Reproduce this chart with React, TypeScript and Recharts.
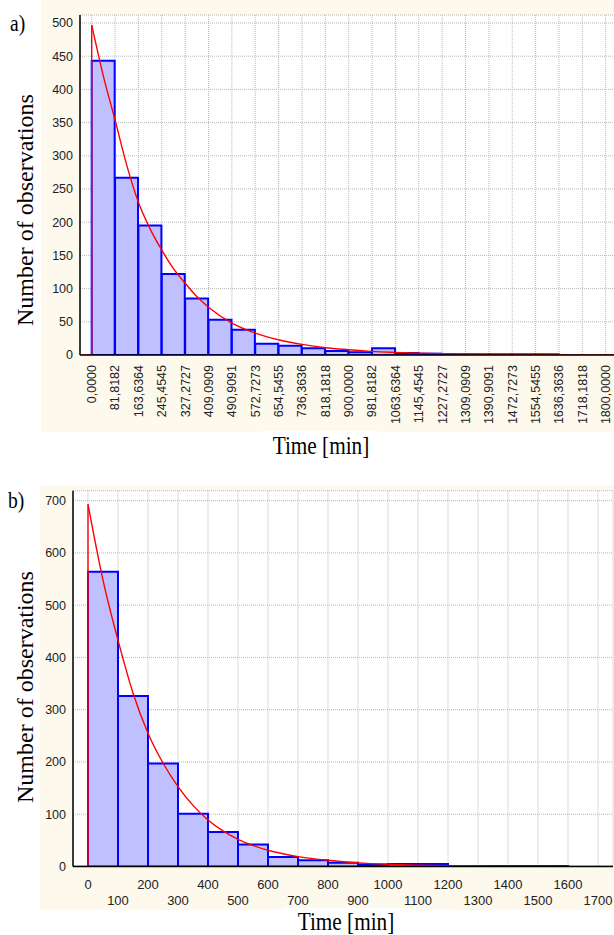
import React from 'react';
import { ComposedChart, Bar, Line, XAxis, YAxis, CartesianGrid } from 'recharts';

// a) bin edges as printed on the axis (min)
const tickLabelsA = [
  '0,0000', '81,8182', '163,6364', '245,4545', '327,2727', '409,0909', '490,9091',
  '572,7273', '654,5455', '736,3636', '818,1818', '900,0000', '981,8182', '1063,6364',
  '1145,4545', '1227,2727', '1309,0909', '1390,9091', '1472,7273', '1554,5455',
  '1636,3636', '1718,1818', '1800,0000',
];
const countsA = [443, 267, 195, 122, 85, 53, 38, 17, 14, 10, 6, 4, 10, 3, 2, 1, 1, 1, 1, 1, 0, 0];
// fitted exponential
const fitXA = [0, 40.9, 81.8, 122.7, 163.6, 204.5, 245.5, 286.4, 327.3, 368.2, 409.1, 490.9, 572.7, 654.5, 736.4, 818.2, 900, 981.8, 1063.6, 1145.5, 1227.3, 1309.1, 1390.9, 1472.7, 1554.5, 1636.4, 1718.2, 1800, 1840.9];
const fitYA = [497, 420, 354, 286, 230, 190, 158, 130, 108, 88, 72, 48, 33, 23, 16, 11, 8, 5.5, 4, 2.8, 2, 1.4, 1, 0.7, 0.5, 0.35, 0.25, 0.2, 0.15];
const yTicksA = [0, 50, 100, 150, 200, 250, 300, 350, 400, 450, 500];

// b) bins of 100 min
const tickValuesB = [0, 100, 200, 300, 400, 500, 600, 700, 800, 900, 1000, 1100, 1200, 1300, 1400, 1500, 1600, 1700];
const countsB = [564, 326, 197, 101, 66, 42, 18, 12, 7, 4, 5, 5, 1, 1, 1, 1, 0];
const fitXB = [0, 50, 100, 150, 200, 250, 300, 350, 400, 450, 500, 600, 700, 800, 900, 1000, 1100, 1200, 1300, 1400, 1500, 1600, 1700, 1750];
const fitYB = [693, 548, 433, 332, 255, 198, 153, 117, 89, 68, 52, 31, 19, 12, 7, 4.2, 2.5, 1.5, 0.9, 0.6, 0.4, 0.25, 0.15, 0.1];
const yTicksB = [0, 100, 200, 300, 400, 500, 600, 700];

const SANS = '"Liberation Sans", Arial, sans-serif';
const SERIF = '"Liberation Serif", "Times New Roman", serif';
const CREAM = '#fdf9ed';

const edgesA = tickLabelsA.map((s) => parseFloat(s.replace(',', '.')));
const binsA = countsA.map((count, i) => ({ x: (edgesA[i] + edgesA[i + 1]) / 2, count }));
const fitA = fitXA.map((x, i) => ({ x, y: fitYA[i] }));
const binsB = countsB.map((count, i) => ({ x: (tickValuesB[i] + tickValuesB[i + 1]) / 2, count }));
const fitB = fitXB.map((x, i) => ({ x, y: fitYB[i] }));

type HistProps = {
  bins: { x: number; count: number }[];
  fit: { x: number; y: number }[];
  xDomain: [number, number];
  xTicks: number[];
  yDomain: [number, number];
  yTicks: number[];
  width: number;
  height: number;
  margin: { top: number; right: number; bottom: number; left: number };
  yAxisWidth: number;
  xAxisHeight: number;
  binWidth: number;
  tick: (props: any) => React.ReactElement;
};

function Histogram(p: HistProps) {
  const plotW = p.width - p.margin.left - p.margin.right - p.yAxisWidth;
  const pxPerUnit = plotW / (p.xDomain[1] - p.xDomain[0]);
  // the band axis for the bars covers exactly the binned range
  const binStart = p.bins[0].x - p.binWidth / 2;
  const binEnd = p.bins[p.bins.length - 1].x + p.binWidth / 2;
  const padLeft = (binStart - p.xDomain[0]) * pxPerUnit;
  const padRight = (p.xDomain[1] - binEnd) * pxPerUnit;
  const step = [
    { x: p.xDomain[0], y: 0 },
    { x: 0, y: 0 },
    { x: 0, y: p.fit[0].y },
  ];
  return (
    <ComposedChart width={p.width} height={p.height} data={p.bins} margin={p.margin} barGap={0} barCategoryGap={0}>
      <CartesianGrid fill="#fff" stroke="#b8b8b8" strokeDasharray="1 1" />
      <XAxis
        dataKey="x"
        type="number"
        domain={p.xDomain}
        ticks={p.xTicks}
        interval={0}
        allowDataOverflow
        height={p.xAxisHeight}
        axisLine={{ stroke: '#000', strokeWidth: 1.5 }}
        tickLine={false}
        tickSize={0}
        tick={p.tick}
      />
      <XAxis
        xAxisId="bins"
        dataKey="x"
        type="category"
        hide
        padding={{ left: padLeft, right: padRight }}
      />
      <XAxis
        xAxisId="top"
        orientation="top"
        dataKey="x"
        type="number"
        domain={p.xDomain}
        ticks={p.xTicks}
        interval={0}
        allowDataOverflow
        height={0}
        mirror
        tick={false}
        tickSize={4}
        tickLine={{ stroke: '#000' }}
        axisLine={{ stroke: '#000', strokeWidth: 1.5 }}
      />
      <YAxis
        type="number"
        domain={p.yDomain}
        ticks={p.yTicks}
        interval={0}
        allowDataOverflow
        width={p.yAxisWidth}
        axisLine={{ stroke: '#000', strokeWidth: 1.5 }}
        tickLine={false}
        tickSize={0}
        tickMargin={7}
        tick={{ fontSize: 12.5, fill: '#222', fontFamily: SANS }}
      />
      <YAxis
        yAxisId="right"
        orientation="right"
        type="number"
        domain={p.yDomain}
        ticks={p.yTicks}
        interval={0}
        allowDataOverflow
        width={0}
        mirror
        tick={false}
        tickSize={4}
        tickLine={{ stroke: '#000' }}
        axisLine={false}
      />
      <Bar xAxisId="bins" dataKey="count" fill="#c0c0ff" stroke="#0000ff" strokeWidth={2} isAnimationActive={false} />
      <Line data={step} dataKey="y" type="linear" stroke="#ff0000" strokeWidth={1.4} dot={false} isAnimationActive={false} />
      <Line data={p.fit} dataKey="y" type="monotone" stroke="#ff0000" strokeWidth={1.4} dot={false} isAnimationActive={false} />
    </ComposedChart>
  );
}

const RotatedTickA = (props: any) => {
  const { x, y, payload } = props;
  return (
    <g transform={`translate(${x},${y + 8}) rotate(-90)`}>
      <text x={0} y={0} dy="0.35em" textAnchor="end" fontSize={12.5} fill="#222" fontFamily={SANS}>
        {tickLabelsA[payload.index]}
      </text>
    </g>
  );
};

const StaggeredTickB = (props: any) => {
  const { x, y, payload } = props;
  const lower = Math.round(payload.value / 100) % 2 === 1;
  return (
    <text x={x} y={y + (lower ? 36 : 20)} textAnchor="middle" fontSize={13} fill="#222" fontFamily={SANS}>
      {payload.value}
    </text>
  );
};

const abs = (left: number, top: number): React.CSSProperties => ({ position: 'absolute', left, top });

const titleX: React.CSSProperties = {
  width: 200,
  height: 25,
  lineHeight: '25px',
  textAlign: 'center',
  fontFamily: SERIF,
  fontSize: 25,
  transform: 'scaleX(0.85)',
};

const titleY: React.CSSProperties = {
  width: 300,
  height: 30,
  lineHeight: '30px',
  textAlign: 'center',
  fontFamily: SERIF,
  fontSize: 24,
  transform: 'rotate(-90deg)',
};

export default function App() {
  return (
    <div style={{ position: 'fixed', left: 0, top: 0, width: 614, height: 935, overflow: 'hidden', background: '#fff' }}>
      {/* panel backgrounds */}
      <div style={{ ...abs(41, 0), width: 573, height: 432, background: CREAM }} />
      <div style={{ ...abs(40, 485), width: 574, height: 425, background: CREAM }} />

      <div style={abs(0, 0)}>
        <Histogram
          bins={binsA}
          fit={fitA}
          xDomain={[-40.909, 1840.909]}
          xTicks={edgesA}
          yDomain={[0, 512]}
          yTicks={yTicksA}
          width={640}
          height={440}
          margin={{ top: 15, right: 22.6, bottom: 15, left: 0 }}
          yAxisWidth={80}
          xAxisHeight={70}
          binWidth={edgesA[1] - edgesA[0]}
          tick={RotatedTickA}
        />
      </div>
      <div style={abs(0, 470)}>
        <Histogram
          bins={binsB}
          fit={fitB}
          xDomain={[-50, 1750]}
          xTicks={tickValuesB}
          yDomain={[0, 719]}
          yTicks={yTicksB}
          width={640}
          height={440}
          margin={{ top: 20.7, right: 27, bottom: 0, left: 0 }}
          yAxisWidth={73}
          xAxisHeight={43.5}
          binWidth={100}
          tick={StaggeredTickB}
        />
      </div>

      {/* titles */}
      <div style={{ ...abs(10, 9), fontFamily: SERIF, fontSize: 23, lineHeight: '30px', transform: 'scaleX(0.85)', transformOrigin: 'left' }}>a)</div>
      <div style={{ ...abs(8, 486), fontFamily: SERIF, fontSize: 23, lineHeight: '30px', transform: 'scaleX(0.85)', transformOrigin: 'left' }}>b)</div>

      <div style={{ ...abs(25 - 150, 210 - 15), ...titleY }}>Number of observations</div>
      <div style={{ ...abs(25 - 150, 687 - 15), ...titleY }}>Number of observations</div>

      <div style={{ ...abs(262, 431), width: 116, height: 28, background: '#fff' }} />
      <div style={{ ...abs(321 - 100, 433), ...titleX }}>Time [min]</div>
      <div style={{ ...abs(283, 908), width: 127, height: 27, background: '#fff' }} />
      <div style={{ ...abs(346 - 100, 909), ...titleX }}>Time [min]</div>
    </div>
  );
}
